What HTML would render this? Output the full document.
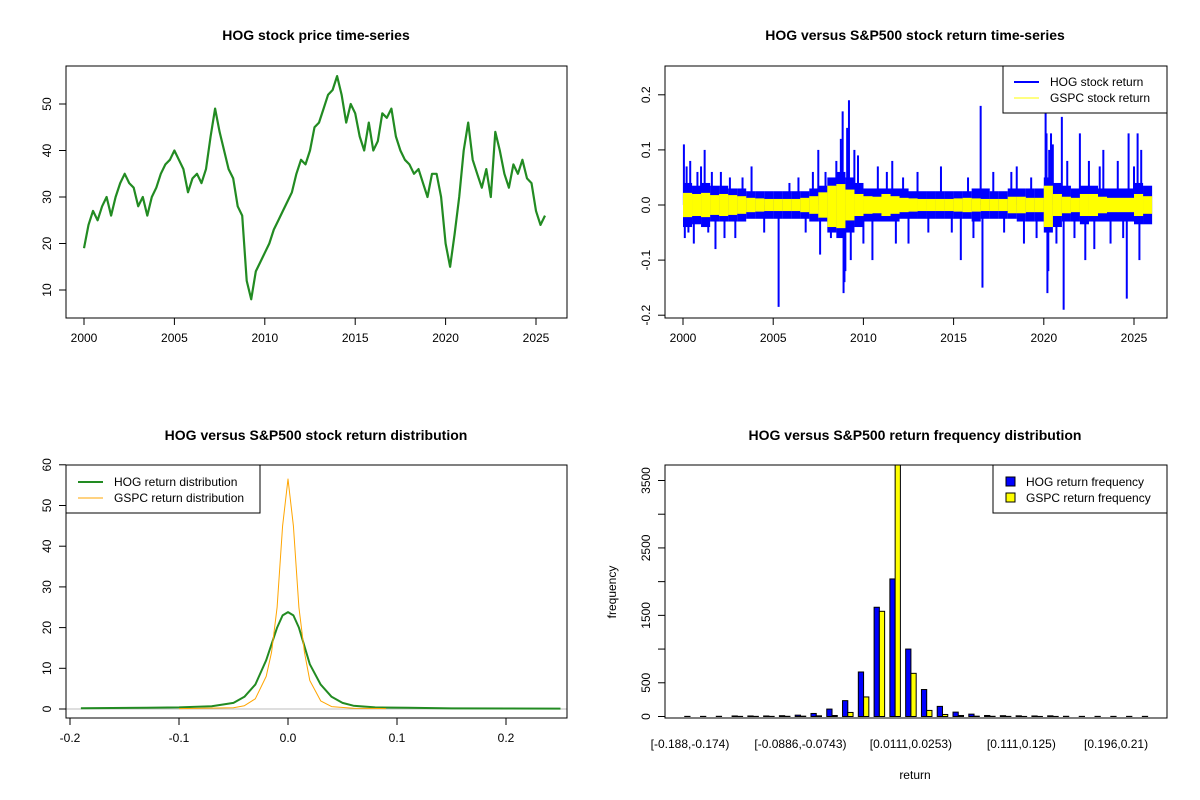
<!DOCTYPE html>
<html><head><meta charset="utf-8"><style>
body{margin:0;background:#fff}
svg{display:block;font-family:"Liberation Sans",Arial,sans-serif}
</style></head><body>
<svg id="c" width="1200" height="800" viewBox="0 0 1200 800"></svg>
<script>
// ---- Panel 1 data: HOG price (quarterly, from 2000.0)
const priceStart = 2000;
const priceValues = [19,24,27,25, 28,30,26,30, 33,35,33,32, 28,30,26,30, 32,35,37,38, 40,38,36,31, 34,35,33,36, 43,49,44,40, 36,34,28,26, 12,8,14,16, 18,20,23,25, 27,29,31,35, 38,37,40,45, 46,49,52,53, 56,52,46,50, 48,43,40,46, 40,42,48,47, 49,43,40,38, 37,35,36,33, 30,35,35,30, 20,15,22,30, 40,46,38,35, 32,36,30,44, 40,35,32,37, 35,38,34,33, 27,24,26];
const priceTicksX = [2000,2005,2010,2015,2020,2025];
const priceTicksY = [10,20,30,40,50];
// ---- Panel 2 data: returns envelope per half-year (in units of 0.01)
const hogHi = [4,3.5,4,3.5,3.5,3,3,2.5,2.5,2.5,2.5,2.5,2.5,2.5,3,3.5,5,6,5,4,3,3,3,3,3,2.5,2.5,2.5,2.5,2.5,2.5,2.5,3,3,2.5,2.5,3,3,3,3,5,4,3.5,3,3.5,3.5,3,3,3,3,4,3.5];
const hogLo = [-4,-3.5,-4,-3,-3,-3,-3,-2.5,-2.5,-2.5,-2.5,-2.5,-2.5,-2.5,-3,-3,-5,-6,-5,-4,-3,-3,-3,-3,-2.5,-2.5,-2.5,-2.5,-2.5,-2.5,-2.5,-2.5,-3,-2.5,-2.5,-2.5,-2.5,-3,-3,-3,-5,-4,-3,-3,-3.5,-3,-3,-3,-3,-3,-3.5,-3.5];
const spHi = [2.2,2,2.2,1.8,2,1.8,1.6,1.3,1.2,1.1,1.1,1.1,1.1,1.3,1.6,2.3,3.5,3.8,2.8,2,1.6,1.5,2,1.6,1.3,1.2,1.1,1.1,1.1,1.1,1.2,1.3,1.2,1.1,1.1,1.1,1.5,1.5,1.3,1.3,3.5,2,1.5,1.3,2,2,1.5,1.3,1.3,1.3,2,1.6];
const spLo = [-2.2,-2,-2.2,-1.8,-2,-1.8,-1.6,-1.3,-1.2,-1.1,-1.1,-1.1,-1.1,-1.3,-1.6,-2.3,-4,-4.2,-2.8,-2,-1.6,-1.5,-2,-1.6,-1.3,-1.2,-1.1,-1.1,-1.1,-1.1,-1.2,-1.3,-1.2,-1.1,-1.1,-1.1,-1.5,-1.5,-1.3,-1.3,-4,-2,-1.5,-1.3,-2,-2,-1.5,-1.3,-1.3,-1.3,-2,-1.6];
const spikeYears = [2000.05,2000.1,2000.2,2000.3,2000.4,2000.6,2000.8,2001.0,2001.2,2001.4,2001.6,2001.8,2002.1,2002.3,2002.6,2002.9,2003.3,2003.8,2004.5,2005.3,2005.9,2006.4,2006.8,2007.2,2007.5,2007.6,2007.9,2008.2,2008.5,2008.75,2008.8,2008.85,2008.9,2008.95,2009.0,2009.1,2009.2,2009.3,2009.5,2009.7,2010.0,2010.5,2010.8,2011.3,2011.6,2011.8,2012.2,2012.5,2013.0,2013.6,2014.3,2014.9,2015.4,2015.8,2016.1,2016.5,2016.6,2017.2,2017.8,2018.2,2018.5,2018.9,2019.3,2019.6,2020.1,2020.15,2020.2,2020.25,2020.3,2020.4,2020.5,2020.7,2021.0,2021.1,2021.3,2021.7,2022.0,2022.3,2022.5,2022.8,2023.1,2023.3,2023.7,2024.1,2024.4,2024.6,2024.7,2025.0,2025.2,2025.3,2025.4];
const spikeValues = [0.11,-0.06,0.07,-0.05,0.08,-0.07,0.06,0.07,0.1,-0.05,0.06,-0.08,0.06,-0.06,0.05,-0.06,0.05,0.07,-0.05,-0.185,0.04,0.05,-0.05,0.06,0.1,-0.09,0.06,-0.06,0.08,0.12,0.1,0.17,-0.16,-0.14,-0.12,0.14,0.19,-0.1,0.1,0.09,-0.07,-0.1,0.07,0.06,0.08,-0.07,0.05,-0.07,0.06,-0.05,0.07,-0.05,-0.1,0.05,-0.06,0.18,-0.15,0.06,-0.05,0.06,0.07,-0.07,0.05,-0.06,0.17,0.13,-0.16,-0.12,0.1,0.13,0.11,-0.07,0.16,-0.19,0.08,-0.06,0.13,-0.1,0.08,-0.08,0.07,0.1,-0.07,0.08,-0.06,-0.17,0.13,0.07,0.13,-0.1,0.1];
const retTicksY = [-0.2,-0.1,0.0,0.1,0.2];
// ---- Panel 3 data: densities
const hogDensX = [-0.19,-0.13,-0.1,-0.07,-0.05,-0.04,-0.03,-0.02,-0.01,-0.005,0,0.005,0.01,0.02,0.03,0.04,0.05,0.06,0.08,0.11,0.15,0.25];
const hogDensY = [0.2,0.3,0.4,0.7,1.5,3,6,12,20,23,23.8,23,20,11,6,3,1.5,0.8,0.4,0.3,0.15,0.1];
const spDensX = [-0.1,-0.05,-0.04,-0.03,-0.02,-0.015,-0.01,-0.005,0,0.005,0.01,0.015,0.02,0.03,0.04,0.06,0.09];
const spDensY = [0.1,0.3,0.8,2.5,8,14,25,45,56.5,45,25,14,7,2,0.6,0.2,0.1];
const densTicksX = [-0.2,-0.1,0.0,0.1,0.2];
const densTicksY = [0,10,20,30,40,50,60];
// ---- Panel 4 data: histogram frequencies
const binLabels = ["[-0.188,-0.174)","[-0.0886,-0.0743)","[0.0111,0.0253)","[0.111,0.125)","[0.196,0.21)"];
const binLabelIdx = [0,7,14,21,27];
const hogFreq = [2,2,3,8,8,8,12,20,45,110,235,660,1620,2040,1000,400,150,65,35,15,12,10,8,10,3,2,2,2,2,2];
const spFreq  = [0,0,0,2,2,2,3,5,10,15,60,290,1560,3800,640,90,30,15,5,3,2,1,1,1,0,0,0,0,0,0];
const freqTicks = [0,500,1000,1500,2000,2500,3000,3500];
const freqLabels = ["0","500","","1500","","2500","","3500"];

const S = document.getElementById('c');
const NS = 'http://www.w3.org/2000/svg';
function mk(tag, attrs, parent){const e=document.createElementNS(NS,tag);for(const k in attrs)e.setAttribute(k,attrs[k]);(parent||S).appendChild(e);return e;}
function txt(s,x,y,o,p){const e=mk('text',Object.assign({x:x,y:y,'font-size':12,'text-anchor':'middle',fill:'#000'},o||{}),p);e.textContent=s;return e;}

function panel(name,title,tx,ty,bx0,by0,bx1,by1){
  const g=mk('g',{});
  
  
  const t=txt(title,tx,ty,{'font-size':14,'font-weight':'bold'},g);
  
  
  const clip=mk('clipPath',{id:name+'-clip'},g);
  mk('rect',{x:bx0,y:by0,width:bx1-bx0,height:by1-by0},clip);
  return g;
}
function box(g,bx0,by0,bx1,by1){
  const r=mk('rect',{x:bx0,y:by0,width:bx1-bx0,height:by1-by0,fill:'none',stroke:'#000','stroke-width':1},g);
  
  
}
function xtick(g,x,y,lab){mk('line',{x1:x,x2:x,y1:y,y2:y+7,stroke:'#000'},g);if(lab!=='')txt(lab,x,y+24,{},g);}
function ytick(g,x,y,lab){mk('line',{x1:x,x2:x-7,y1:y,y2:y,stroke:'#000'},g);if(lab!==''){txt(lab,x-18,y,{transform:`rotate(-90 ${x-18} ${y})`,'dominant-baseline':'middle'},g);}}

// ---------- Panel 1
{
  const g=panel('price-panel','HOG stock price time-series',316,40,66,66,567,318);
  const X=t=>84+(t-2000)*18.08, Y=v=>290-(v-10)*4.65;
  let d='';
  priceValues.forEach((v,i)=>{d+=(i?'L':'M')+X(priceStart+i*0.25).toFixed(1)+' '+Y(v).toFixed(1);});
  const p=mk('path',{d:d,fill:'none',stroke:'#228B22','stroke-width':2.2,'stroke-linejoin':'round'},g);
  
  
  box(g,66,66,567,318);
  mk('line',{x1:X(2000),x2:X(2025),y1:318,y2:318,stroke:'#000'},g);
  priceTicksX.forEach(t=>xtick(g,X(t),318,String(t)));
  mk('line',{x1:66,x2:66,y1:Y(10),y2:Y(50),stroke:'#000'},g);
  priceTicksY.forEach(v=>ytick(g,66,Y(v),String(v)));
}
// ---------- Panel 2
{
  const g=panel('return-panel','HOG versus S&P500 stock return time-series',915,40,665,66,1167,318);
  const X=t=>683+(t-2000)*18.04, Y=v=>205-v*551;
  const inner=mk('g',{'clip-path':'url(#return-panel-clip)'},g);
  hogHi.forEach((h,i)=>{const t=2000+i*0.5;const r=mk('rect',{x:X(t),y:Y(h/100),width:9.1,height:Y(hogLo[i]/100)-Y(h/100),fill:'#0000FF'},inner);});
  spikeYears.forEach((t,i)=>{const l=mk('line',{x1:X(t),x2:X(t),y1:205,y2:Y(spikeValues[i]),stroke:'#0000FF','stroke-width':2},inner);});
  spHi.forEach((h,i)=>{const t=2000+i*0.5;const r=mk('rect',{x:X(t),y:Y(h/100),width:9.1,height:Y(spLo[i]/100)-Y(h/100),fill:'#FFFF00'},inner);});
  box(g,665,66,1167,318);
  mk('line',{x1:X(2000),x2:X(2025),y1:318,y2:318,stroke:'#000'},g);
  priceTicksX.forEach(t=>xtick(g,X(t),318,String(t)));
  mk('line',{x1:665,x2:665,y1:Y(-0.2),y2:Y(0.2),stroke:'#000'},g);
  retTicksY.forEach(v=>ytick(g,665,Y(v),v.toFixed(1)));
  const lg=mk('g',{},g);
  
  
  mk('rect',{x:1003,y:66,width:164,height:47,fill:'#fff',stroke:'#000'},lg);
  mk('line',{x1:1014,x2:1039,y1:82,y2:82,stroke:'#0000FF','stroke-width':2},lg);
  mk('line',{x1:1014,x2:1039,y1:98,y2:98,stroke:'#FFFF00','stroke-width':1},lg);
  txt('HOG stock return',1050,86,{'text-anchor':'start'},lg);
  txt('GSPC stock return',1050,102,{'text-anchor':'start'},lg);
}
// ---------- Panel 3
{
  const g=panel('density-panel','HOG versus S&P500 stock return distribution',316,440,66,465,567,718);
  const X=v=>288+v*1090, Y=d=>709-d*4.07;
  mk('line',{x1:66,x2:567,y1:Y(0),y2:Y(0),stroke:'#bebebe'},g);
  let d1='',d2='';
  hogDensX.forEach((v,i)=>{d1+=(i?'L':'M')+X(v).toFixed(1)+' '+Y(hogDensY[i]).toFixed(1);});
  spDensX.forEach((v,i)=>{d2+=(i?'L':'M')+X(v).toFixed(1)+' '+Y(spDensY[i]).toFixed(1);});
  const p1=mk('path',{d:d1,fill:'none',stroke:'#228B22','stroke-width':2,'stroke-linejoin':'round'},g);
  
  
  const p2=mk('path',{d:d2,fill:'none',stroke:'#FFA500','stroke-width':1,'stroke-linejoin':'round'},g);
  
  
  box(g,66,465,567,718);
  mk('line',{x1:X(-0.2),x2:X(0.2),y1:718,y2:718,stroke:'#000'},g);
  densTicksX.forEach(v=>xtick(g,X(v),718,v.toFixed(1)));
  mk('line',{x1:66,x2:66,y1:Y(0),y2:Y(60),stroke:'#000'},g);
  densTicksY.forEach(v=>ytick(g,66,Y(v),String(v)));
  const lg=mk('g',{},g);
  
  
  mk('rect',{x:66,y:465,width:194,height:48,fill:'#fff',stroke:'#000'},lg);
  mk('line',{x1:78,x2:103,y1:482,y2:482,stroke:'#228B22','stroke-width':2},lg);
  mk('line',{x1:78,x2:103,y1:498,y2:498,stroke:'#FFA500','stroke-width':1},lg);
  txt('HOG return distribution',114,486,{'text-anchor':'start'},lg);
  txt('GSPC return distribution',114,502,{'text-anchor':'start'},lg);
}
// ---------- Panel 4
{
  const g=panel('histogram-panel','HOG versus S&P500 return frequency distribution',915,440,665,465,1167,718);
  const C=i=>690+i*15.78, U=5.26, Y=f=>716.5-f*0.06743;
  const inner=mk('g',{'clip-path':'url(#histogram-panel-clip)'},g);
  hogFreq.forEach((f,i)=>{
    const r=mk('rect',{x:C(i)-U,y:Y(f),width:U,height:Y(0)-Y(f),fill:'#0000FF',stroke:'#000','stroke-width':1},inner);
    
    
    const r2=mk('rect',{x:C(i),y:Y(spFreq[i]),width:U,height:Y(0)-Y(spFreq[i]),fill:'#FFFF00',stroke:'#000','stroke-width':1},inner);
    
    
  });
  box(g,665,465,1167,718);
  binLabelIdx.forEach((b,k)=>{txt(binLabels[k],C(b),748,{},g);});
  mk('line',{x1:665,x2:665,y1:Y(0),y2:Y(3500),stroke:'#000'},g);
  freqTicks.forEach((v,k)=>ytick(g,665,Y(v),freqLabels[k]));
  const xl=txt('return',915,779,{},g);
  
  
  const yl=txt('frequency',616,592,{transform:'rotate(-90 616 592)'},g);
  
  
  const lg=mk('g',{},g);
  
  
  mk('rect',{x:993,y:465,width:174,height:48,fill:'#fff',stroke:'#000'},lg);
  mk('rect',{x:1006,y:477,width:9,height:9,fill:'#0000FF',stroke:'#000'},lg);
  mk('rect',{x:1006,y:493,width:9,height:9,fill:'#FFFF00',stroke:'#000'},lg);
  txt('HOG return frequency',1026,486,{'text-anchor':'start'},lg);
  txt('GSPC return frequency',1026,502,{'text-anchor':'start'},lg);
}
</script>
</body></html>
